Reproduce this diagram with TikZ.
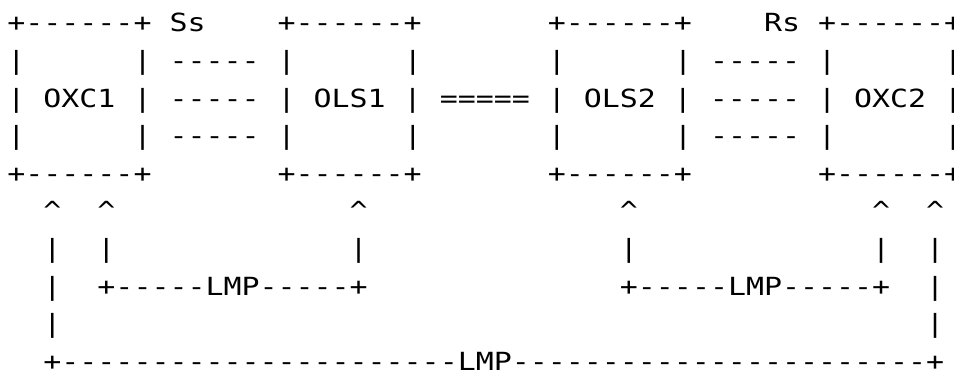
\documentclass[tikz,border=0pt]{standalone}
\usepackage{fontspec}
\newfontfamily\asciifont[FakeStretch=1.197,Ligatures=TeXOff]{DejaVu Sans Mono}
\tikzset{asciirow/.style={anchor=base west,inner sep=0pt,font=\asciifont\fontsize{12.5pt}{18.8pt}\selectfont}}

\begin{document}
\begin{tikzpicture}[x=1pt,y=1pt]
	\useasboundingbox (0,0) rectangle (477,-185);
	% boxes and short links
	\path (3.5,-15.9) node[asciirow] (row0)
		{+------+~Ss~~~~+------+~~~~~~~+------+~~~~Rs~+------+};
	\path (3.5,-34.7) node[asciirow] (row1)
		{|~~~~~~|~-----~|~~~~~~|~~~~~~~|~~~~~~|~-----~|~~~~~~|};
	\path (3.5,-53.5) node[asciirow] (row2)
		{|~OXC1~|~-----~|~OLS1~|~=====~|~OLS2~|~-----~|~OXC2~|};
	\path (3.5,-72.3) node[asciirow] (row3)
		{|~~~~~~|~-----~|~~~~~~|~~~~~~~|~~~~~~|~-----~|~~~~~~|};
	\path (3.5,-91.1) node[asciirow] (row4)
		{+------+~~~~~~~+------+~~~~~~~+------+~~~~~~~+------+};
	% LMP control channels
	\path (3.5,-109.9) node[asciirow] (row5)
		{~~\textasciicircum~~\textasciicircum~~~~~~~~~~~~~\textasciicircum~~~~~~~~~~~~~~\textasciicircum~~~~~~~~~~~~~\textasciicircum~~\textasciicircum};
	\path (3.5,-128.7) node[asciirow] (row6)
		{~~|~~|~~~~~~~~~~~~~|~~~~~~~~~~~~~~|~~~~~~~~~~~~~|~~|};
	\path (3.5,-147.5) node[asciirow] (row7)
		{~~|~~+-----LMP-----+~~~~~~~~~~~~~~+-----LMP-----+~~|};
	\path (3.5,-166.3) node[asciirow] (row8)
		{~~|~~~~~~~~~~~~~~~~~~~~~~~~~~~~~~~~~~~~~~~~~~~~~~~~|};
	\path (3.5,-185.1) node[asciirow] (row9)
		{~~+----------------------LMP-----------------------+};
\end{tikzpicture}
\end{document}
